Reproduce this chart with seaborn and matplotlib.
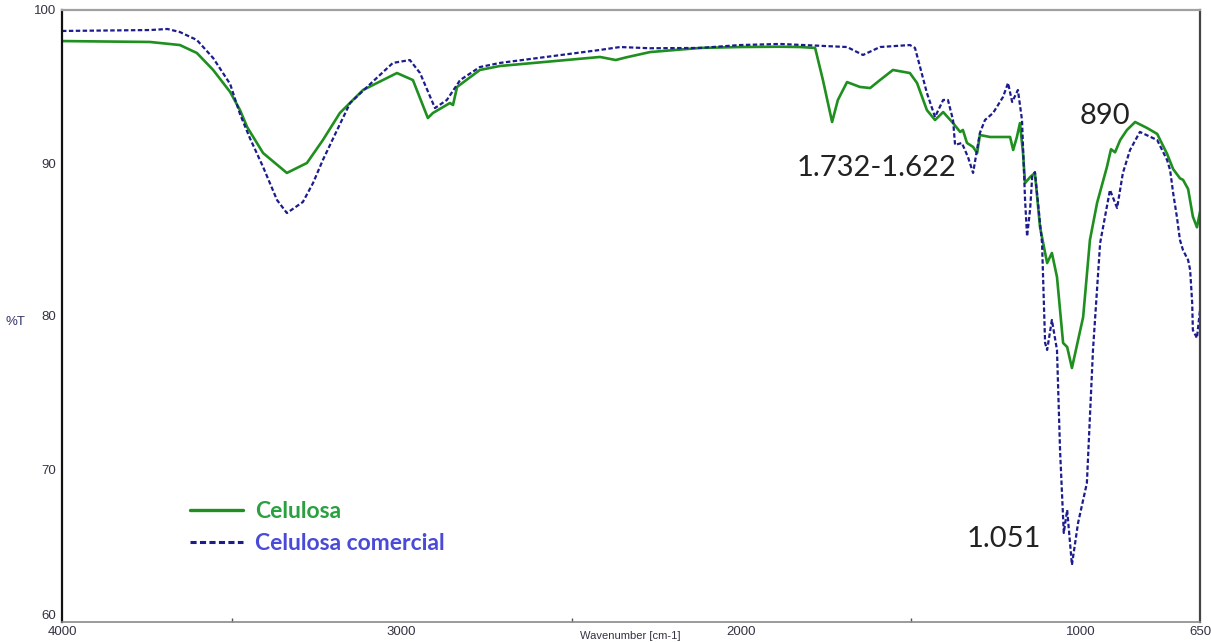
import numpy as np
import pandas as pd
import matplotlib
matplotlib.use("Agg")
import matplotlib.pyplot as plt
from matplotlib.lines import Line2D
from matplotlib.ticker import FixedLocator
import seaborn as sns

# FTIR spectrum of extracted cellulose (wavenumber in cm-1, transmittance in %T)
celulosa_wn = [4000, 3741, 3653, 3603, 3555, 3505, 3476, 3455, 3408, 3338,
               3279, 3232, 3182, 3114, 3014, 2967, 2923, 2908, 2858, 2849,
               2837, 2770, 2711, 2416, 2370, 2340, 2269, 2122, 2004, 1886,
               1827, 1783, 1760, 1733, 1716, 1689, 1651, 1621, 1592, 1554,
               1504, 1483, 1454, 1430, 1406, 1377, 1356, 1348, 1336, 1318,
               1306, 1298, 1268, 1209, 1200, 1189, 1180, 1171, 1165, 1150,
               1136, 1121, 1100, 1086, 1071, 1053, 1041, 1027, 994, 974,
               953, 924, 912, 900, 885, 865, 841, 806, 776, 747,
               729, 709, 700, 685, 671, 659, 650]
celulosa_t = [97.97, 97.91, 97.71, 97.19, 96.08, 94.64, 93.46, 92.35, 90.65, 89.35,
              90.00, 91.50, 93.27, 94.77, 95.88, 95.42, 92.94, 93.27, 93.92, 93.79,
              94.97, 96.08, 96.34, 96.93, 96.73, 96.90, 97.25, 97.52, 97.58, 97.60,
              97.58, 97.52, 95.42, 92.68, 94.12, 95.29, 94.97, 94.90, 95.42, 96.08,
              95.88, 95.23, 93.46, 92.81, 93.33, 92.61, 92.03, 92.16, 91.31, 91.05,
              90.65, 91.83, 91.70, 91.70, 90.85, 91.70, 92.61, 90.65, 88.69, 89.08,
              89.35, 85.82, 83.46, 84.12, 82.55, 78.24, 77.97, 76.60, 79.93, 84.97,
              87.39, 89.74, 90.90, 90.70, 91.50, 92.16, 92.68, 92.29, 91.90, 90.60,
              89.60, 89.00, 88.90, 88.30, 86.50, 85.80, 86.80]

# FTIR spectrum of commercial cellulose
comercial_wn = [4000, 3741, 3690, 3653, 3603, 3555, 3505, 3476, 3447, 3408,
                3367, 3338, 3291, 3261, 3232, 3190, 3152, 3102, 3026, 2976,
                2946, 2902, 2867, 2828, 2770, 2711, 2416, 2357, 2269, 2122,
                2004, 1886, 1689, 1642, 1592, 1504, 1489, 1474, 1454, 1430,
                1406, 1392, 1377, 1371, 1351, 1333, 1318, 1298, 1283, 1259,
                1230, 1215, 1203, 1186, 1174, 1165, 1159, 1150, 1144, 1136,
                1115, 1106, 1100, 1086, 1071, 1062, 1051, 1041, 1027, 1009,
                983, 965, 944, 915, 894, 877, 856, 827, 776, 747,
                738, 729, 718, 709, 700, 685, 679, 673, 671, 659, 650]
comercial_t = [98.63, 98.69, 98.76, 98.56, 98.04, 96.86, 95.16, 93.20, 91.63, 89.74,
               87.58, 86.73, 87.45, 88.69, 90.20, 92.16, 93.92, 94.97, 96.54, 96.73,
               95.88, 93.59, 94.12, 95.42, 96.27, 96.54, 97.39, 97.58, 97.50, 97.52,
               97.71, 97.78, 97.58, 97.06, 97.58, 97.71, 97.52, 96.27, 94.58, 93.01,
               94.12, 94.12, 92.81, 91.18, 91.31, 90.39, 89.35, 91.96, 92.81, 93.27,
               94.31, 95.23, 93.99, 94.77, 92.81, 87.60, 85.20, 87.00, 89.10, 89.41,
               84.77, 78.24, 77.78, 79.74, 77.78, 71.24, 65.82, 67.32, 63.73, 66.47,
               69.08, 77.78, 84.77, 88.24, 87.06, 89.35, 90.85, 92.03, 91.50, 90.20,
               89.54, 88.04, 86.47, 84.97, 84.30, 83.66, 83.00, 80.85, 79.08, 78.56, 80.39]

series_names = ["Celulosa", "Celulosa comercial"]
y_ticks = [60, 70, 80, 90, 100]
x_ticks = [4000, 3000, 2000, 1000, 650]
x_minor = [3500, 2500, 1500]
peak_labels = [("1.732-1.622", 1836, 89.7), ("890", 1003, 93.1), ("1.051", 1336, 65.4)]

green = "#1f8f1f"
navy = "#1c1c8e"

df_cel = pd.DataFrame({"wn": celulosa_wn, "t": celulosa_t})
df_com = pd.DataFrame({"wn": comercial_wn, "t": comercial_t})

sns.set_theme(style="white")
plt.rcParams["font.family"] = ["Liberation Sans", "DejaVu Sans"]

fig = plt.figure(figsize=(12.11, 6.42), dpi=100)
ax = fig.add_axes([62 / 1211, 1 - 622 / 642, (1200 - 62) / 1211, 612 / 642])

sns.lineplot(data=df_cel, x="wn", y="t", ax=ax, color=green, linewidth=1.9,
             estimator=None, sort=False)
sns.lineplot(data=df_com, x="wn", y="t", ax=ax, color=navy, linewidth=1.6,
             estimator=None, sort=False, linestyle=(0, (2.0, 1.1)))

ax.set_xlim(4000, 650)
ax.set_ylim(60, 100)
ax.set_xlabel("")
ax.set_ylabel("")

ax.xaxis.set_major_locator(FixedLocator(x_ticks))
ax.xaxis.set_minor_locator(FixedLocator(x_minor))
ax.yaxis.set_major_locator(FixedLocator(y_ticks))
ax.set_xticklabels([str(v) for v in x_ticks])
ax.set_yticklabels([str(v) for v in y_ticks])
ax.tick_params(axis="both", which="major", direction="in", length=7, width=1,
               color="#777777", labelsize=9.5, labelcolor="#333344")
ax.tick_params(axis="x", which="minor", direction="in", length=3, width=1,
               color="#555555", bottom=True)
ax.tick_params(axis="x", which="major", pad=3)
ax.tick_params(axis="y", which="major", pad=4)

for lbl in ax.get_yticklabels():
    if lbl.get_text() == "60":
        lbl.set_verticalalignment("bottom")

ax.spines["left"].set_color("#111111")
ax.spines["left"].set_linewidth(1.6)
ax.spines["bottom"].set_color("#8a8a8a")
ax.spines["bottom"].set_linewidth(1.2)
ax.spines["top"].set_color("#a0a0a0")
ax.spines["top"].set_linewidth(1.6)
ax.spines["right"].set_color("#444444")
ax.spines["right"].set_linewidth(1.6)

fig.text(5 / 1211, 1 - 322 / 642, "%T", fontsize=9.5, color="#333366",
         ha="left", va="center")
fig.text(630 / 1211, 1 - 641 / 642, "Wavenumber [cm-1]", fontsize=8,
         color="#333344", ha="center", va="bottom")

handles = [Line2D([], [], color=green, linewidth=2.4),
           Line2D([], [], color=navy, linewidth=2.2, linestyle=(0, (2.0, 1.1)))]
leg = ax.legend(handles, series_names, loc="upper left",
                bbox_to_anchor=(112 / 1138, (622 - 485) / 612),
                frameon=False, handlelength=2.3, handletextpad=0.55,
                labelspacing=0.5, borderpad=0.2,
                prop={"family": "Lato", "weight": "bold", "size": 16.5})
for txt, c in zip(leg.get_texts(), ["#2aa040", "#4a4ad8"]):
    txt.set_color(c)

for text, x, y in peak_labels:
    ax.text(x, y, text, fontsize=21, color="#222222", family="Lato",
            ha="left", va="center")

fig.savefig("out.png", dpi=100)
